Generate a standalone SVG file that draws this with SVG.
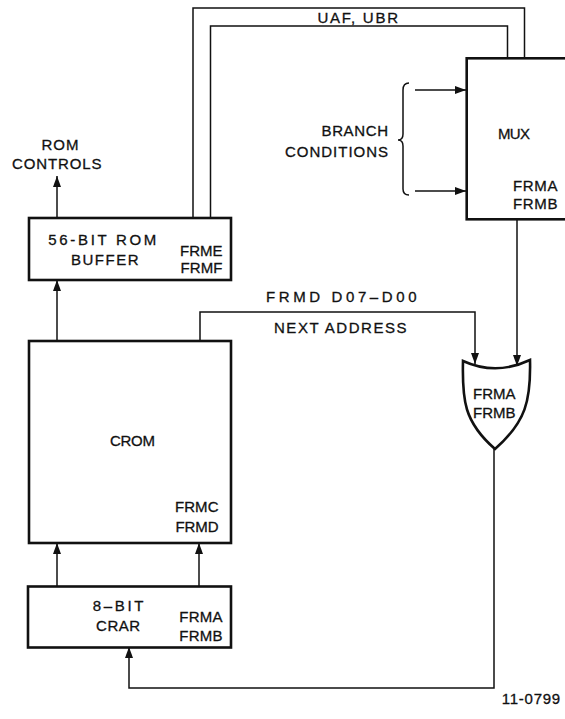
<svg xmlns="http://www.w3.org/2000/svg" width="565" height="719" viewBox="0 0 565 719">
<style>
.bg{fill:#ffffff}
.box{fill:none;stroke:#111;stroke-width:2.6}
.ln{fill:none;stroke:#111;stroke-width:1.5}
.t{font-family:"Liberation Sans",Arial,sans-serif;font-size:15px;fill:#111;stroke:#111;stroke-width:0.3;letter-spacing:1.5px}
</style>
<defs>
<marker id="ah" markerUnits="userSpaceOnUse" markerWidth="11" markerHeight="8" refX="11" refY="4" orient="auto">
<path d="M0,0 L11,4 L0,8 Z" fill="#111"/>
</marker>
</defs>
<rect class="bg" x="0" y="0" width="565" height="719"/>
<g id="connectors">
<polyline class="ln" points="193,218 193,8 524.5,8 524.5,58"/>
<polyline class="ln" points="210.5,218 210.5,26 507.5,26 507.5,58"/>
<line class="ln" x1="415" y1="90" x2="466" y2="90" marker-end="url(#ah)"/>
<line class="ln" x1="415" y1="191" x2="466" y2="191" marker-end="url(#ah)"/>
<path class="ln" d="M409,83 Q403,83 403,90 L403,134 Q403,140 398,140 Q403,140 403,146 L403,189 Q403,195 409,195"/>
<line class="ln" x1="57" y1="218" x2="57" y2="176" marker-end="url(#ah)"/>
<line class="ln" x1="57" y1="341" x2="57" y2="280" marker-end="url(#ah)"/>
<polyline class="ln" points="200,341 200,312 475,312 475,364" marker-end="url(#ah)"/>
<line class="ln" x1="517" y1="219" x2="517" y2="366" marker-end="url(#ah)"/>
<line class="ln" x1="57" y1="587" x2="57" y2="543" marker-end="url(#ah)"/>
<line class="ln" x1="199" y1="587" x2="199" y2="543" marker-end="url(#ah)"/>
<polyline class="ln" points="494,449 494,688 129,688 129,647" marker-end="url(#ah)"/>
<text class="t" x="317.5" y="22.5" font-size="14" textLength="82">UAF, UBR</text>
<text class="t" x="266" y="301.5" textLength="152">FRMD  D07–D00</text>
<text class="t" x="274" y="332.5" textLength="134">NEXT ADDRESS</text>
<text class="t" x="321.5" y="136" textLength="68">BRANCH</text>
<text class="t" x="285" y="156.5" textLength="104.5">CONDITIONS</text>
<text class="t" x="41.5" y="149.5" textLength="38.5">ROM</text>
<text class="t" x="12" y="168.5" textLength="91">CONTROLS</text>
</g>
<g id="mux">
<rect class="box" x="466.7" y="58.3" width="120" height="161"/>
<text class="t" x="498" y="138.5" textLength="33.5">MUX</text>
<text class="t" x="513" y="191" textLength="46">FRMA</text>
<text class="t" x="513" y="208.5" textLength="46">FRMB</text>
</g>
<g id="rombuffer">
<rect class="box" x="29" y="218" width="202" height="62"/>
<text class="t" x="48.3" y="245" textLength="109.5">56-BIT ROM</text>
<text class="t" x="71" y="265" textLength="69">BUFFER</text>
<text class="t" x="180" y="256" textLength="44">FRME</text>
<text class="t" x="180.5" y="273" textLength="43.5">FRMF</text>
</g>
<g id="crom">
<rect class="box" x="29" y="341" width="202" height="202"/>
<text class="t" x="110" y="446" textLength="46.5">CROM</text>
<text class="t" x="175" y="511.7" textLength="45">FRMC</text>
<text class="t" x="175.5" y="531.7" textLength="44.5">FRMD</text>
</g>
<g id="gate">
<path class="box" d="M463,361 Q496,376 530,360 C531,400 526,422 495,449 C464,422 462,400 463,361 Z"/>
<text class="t" x="473" y="399.3" textLength="44">FRMA</text>
<text class="t" x="473" y="418.3" textLength="44">FRMB</text>
</g>
<g id="crar">
<rect class="box" x="28" y="586.5" width="203" height="61"/>
<text class="t" x="92.7" y="610.7" textLength="52.3">8–BIT</text>
<text class="t" x="96" y="630.7" textLength="45.7">CRAR</text>
<text class="t" x="179.3" y="621.7" textLength="44.7">FRMA</text>
<text class="t" x="179.3" y="640.7" textLength="44.7">FRMB</text>
</g>
<g id="label">
<text class="t" x="501.7" y="704" font-size="11" textLength="60">11-0799</text>
</g>
</svg>
